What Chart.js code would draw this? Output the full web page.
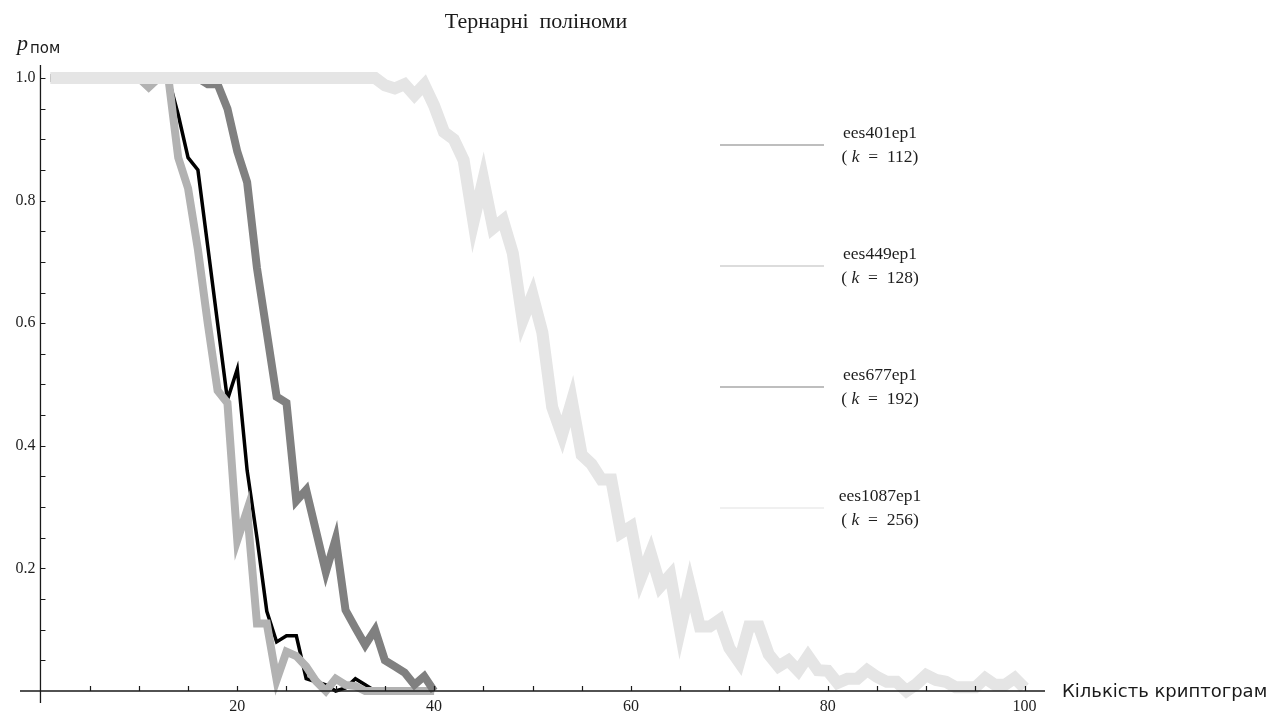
<!DOCTYPE html>
<html>
<head>
<meta charset="utf-8">
<script src="https://cdn.jsdelivr.net/npm/chart.js@4.4.0/dist/chart.umd.min.js"></script>
<style>
  body { margin: 0; background: #fff; }
  #wrap { width: 1284px; height: 715px; }
</style>
</head>
<body>
<div id="wrap"><canvas id="chart" width="1284" height="715"></canvas></div>
<script>
// number of cryptograms (x)
const cryptograms = [
  1, 2, 3, 4, 5, 6, 7, 8, 9, 10, 11, 12, 13, 14, 15, 16, 17, 18, 19, 20,
  21, 22, 23, 24, 25, 26, 27, 28, 29, 30, 31, 32, 33, 34, 35, 36, 37, 38, 39, 40,
  41, 42, 43, 44, 45, 46, 47, 48, 49, 50, 51, 52, 53, 54, 55, 56, 57, 58, 59, 60,
  61, 62, 63, 64, 65, 66, 67, 68, 69, 70, 71, 72, 73, 74, 75, 76, 77, 78, 79, 80,
  81, 82, 83, 84, 85, 86, 87, 88, 89, 90, 91, 92, 93, 94, 95, 96, 97, 98, 99, 100
];

// error probability for each scheme
const ees401ep1 = [
  1, 1, 1, 1, 1, 1, 1, 1, 1, 1, 1, 1, 1, 0.94, 0.87, 0.85, 0.725, 0.6, 0.475, 0.525,
  0.36, 0.25, 0.13, 0.08, 0.09, 0.09, 0.02, 0.015, 0.01, 0, 0.005, 0.02, 0.01, 0, 0, 0, 0, 0, 0, 0
];
const ees449ep1 = [
  1, 1, 1, 1, 1, 1, 1, 1, 1, 1, 0.985, 1, 1, 0.87, 0.82, 0.72, 0.6, 0.49, 0.47, 0.246,
  0.295, 0.11, 0.11, 0.018, 0.064, 0.057, 0.04, 0.016, 0, 0.02, 0.01, 0.008, 0, 0, 0, 0, 0, 0, 0, 0
];
const ees677ep1 = [
  1, 1, 1, 1, 1, 1, 1, 1, 1, 1, 1, 1, 1, 1, 1, 1, 0.99, 0.99, 0.95, 0.88,
  0.83, 0.69, 0.585, 0.48, 0.47, 0.31, 0.328, 0.261, 0.194, 0.248, 0.132, 0.103, 0.075, 0.1, 0.05, 0.04, 0.03, 0.01, 0.024, 0
];
const ees1087ep1 = [
  1, 1, 1, 1, 1, 1, 1, 1, 1, 1, 1, 1, 1, 1, 1, 1, 1, 1, 1, 1,
  1, 1, 1, 1, 1, 1, 1, 1, 1, 1, 1, 1, 1, 1, 0.988, 0.983, 0.99, 0.972, 0.989, 0.955,
  0.912, 0.9, 0.866, 0.765, 0.834, 0.755, 0.768, 0.714, 0.605, 0.646, 0.585, 0.463, 0.418, 0.473, 0.385, 0.37, 0.345, 0.345, 0.258, 0.268,
  0.184, 0.225, 0.171, 0.189, 0.1, 0.171, 0.105, 0.105, 0.116, 0.07, 0.047, 0.105, 0.105, 0.06, 0.04, 0.05, 0.033, 0.057, 0.034, 0.033,
  0.013, 0.02, 0.02, 0.034, 0.023, 0.015, 0.015, 0, 0.011, 0.026, 0.018, 0.015, 0.006, 0.006, 0.006, 0.021, 0.01, 0.01, 0.021, 0.005
];

const seriesNames = ["ees401ep1", "ees449ep1", "ees677ep1", "ees1087ep1"];
const seriesK = [112, 128, 192, 256];

const xTickLabels = [20, 40, 60, 80, 100];
const xMinorTicks = [5, 10, 15, 20, 25, 30, 35, 40, 45, 50, 55, 60, 65, 70, 75, 80, 85, 90, 95, 100];
const yTickLabels = [0.2, 0.4, 0.6, 0.8, 1.0];
const yMinorTicks = [0.05, 0.1, 0.15, 0.2, 0.25, 0.3, 0.35, 0.4, 0.45, 0.5, 0.55, 0.6, 0.65, 0.7, 0.75, 0.8, 0.85, 0.9, 0.95, 1.0];

function points(values) {
  return values.map((v, i) => ({ x: cryptograms[i], y: v }));
}

let lineColors = ["#000000", "#b2b2b2", "#808080", "#e5e5e5"];
let lineWidths = [3.5, 8, 8, 12];
let legendColors = ["#a8a8a8", "#d0d0d0", "#a8a8a8", "#ebebeb"];
let allSeries = [ees401ep1, ees449ep1, ees677ep1, ees1087ep1];

let datasets = allSeries.map((vals, i) => {
  return {
    label: seriesNames[i],
    data: points(vals),
    borderColor: lineColors[i],
    borderWidth: lineWidths[i],
    pointRadius: 0,
    tension: 0,
    fill: false,
    clip: false,
    borderCapStyle: "butt",
    borderJoinStyle: "miter",
    order: 4 - i, // last one drawn on top
  };
});

const decor = {
  id: "decor",
  afterDatasetsDraw(chart) {
    let ctx = chart.ctx;
    let area = chart.chartArea;
    let xs = chart.scales.x;
    let ys = chart.scales.y;
    let x0 = xs.getPixelForValue(0);
    let y0 = ys.getPixelForValue(0);

    ctx.save();
    // axes
    ctx.strokeStyle = "#1a1a1a";
    ctx.lineWidth = 1.3;
    ctx.beginPath();
    ctx.moveTo(area.left, y0);
    ctx.lineTo(area.right, y0);
    ctx.moveTo(x0, area.top);
    ctx.lineTo(x0, area.bottom);
    ctx.stroke();

    ctx.lineWidth = 1.2;
    ctx.beginPath();
    xMinorTicks.forEach((t) => {
      let px = Math.round(xs.getPixelForValue(t)) + 0.5;
      ctx.moveTo(px, y0);
      ctx.lineTo(px, y0 - 5);
    });
    yMinorTicks.forEach((t) => {
      let py = Math.round(ys.getPixelForValue(t)) + 0.5;
      ctx.moveTo(x0, py);
      ctx.lineTo(x0 + 5, py);
    });
    ctx.stroke();

    // tick labels
    ctx.fillStyle = "#1e1e1e";
    ctx.font = "16px 'Liberation Serif'";
    ctx.textAlign = "center";
    ctx.textBaseline = "middle";
    xTickLabels.forEach((t) => {
      ctx.fillText(String(t), xs.getPixelForValue(t), y0 + 16);
    });
    ctx.textAlign = "right";
    yTickLabels.forEach((t) => {
      ctx.fillText(t.toFixed(1), x0 - 5, ys.getPixelForValue(t));
    });

    // axis labels
    ctx.fillStyle = "#1a1a1a";
    ctx.textAlign = "left";
    ctx.font = "18px 'DejaVu Sans'";
    ctx.fillText("Кількість криптограм", 1062, y0 + 1);

    ctx.textBaseline = "alphabetic";
    ctx.font = "italic 22px 'Liberation Serif'";
    ctx.fillText("p", 17, 50);
    ctx.font = "15px 'DejaVu Sans'";
    ctx.fillText("пом", 30, 53);

    // title
    ctx.textAlign = "center";
    ctx.textBaseline = "middle";
    ctx.font = "22px 'Liberation Serif'";
    ctx.fillText("Тернарні  поліноми", 536, 22);

    // legend
    let legendY = [145, 266, 387, 508];
    seriesNames.forEach((name, i) => {
      let ly = legendY[i];
      ctx.strokeStyle = legendColors[i];
      ctx.lineWidth = 1.5;
      ctx.beginPath();
      ctx.moveTo(720, ly);
      ctx.lineTo(824, ly);
      ctx.stroke();

      ctx.fillStyle = "#1e1e1e";
      ctx.textAlign = "center";
      ctx.font = "17.5px 'Liberation Serif'";
      ctx.fillText(name, 880, ly - 12);

      // "( k = 112)"
      ctx.textAlign = "left";
      let parts = [
        ["(", "17.5px 'Liberation Serif'"],
        [" k", "italic 17.5px 'Liberation Serif'"],
        ["  =  " + seriesK[i] + ")", "17.5px 'Liberation Serif'"],
      ];
      let w = 0;
      parts.forEach((p) => {
        ctx.font = p[1];
        w += ctx.measureText(p[0]).width;
      });
      let cx = 880 - w / 2;
      parts.forEach((p) => {
        ctx.font = p[1];
        ctx.fillText(p[0], cx, ly + 12);
        cx += ctx.measureText(p[0]).width;
      });
    });
    ctx.restore();
  },
};

// pixel mapping: x=0 at ~40.5, 9.84 px per unit; y=0 at 691, 613 px per unit
let ctx = document.querySelector("#chart").getContext("2d");
let myChart = new Chart(ctx, {
  type: "line",
  data: { datasets: datasets },
  options: {
    responsive: false,
    animation: false,
    devicePixelRatio: 1,
    layout: {
      padding: { left: 20, right: 239, top: 65, bottom: 12 },
    },
    scales: {
      x: { type: "linear", min: -2.08, max: 102.08, display: false },
      y: { type: "linear", min: -0.0196, max: 1.0212, display: false },
    },
    plugins: {
      legend: { display: false },
      tooltip: { enabled: false },
    },
  },
  plugins: [decor],
});
</script>
</body>
</html>
